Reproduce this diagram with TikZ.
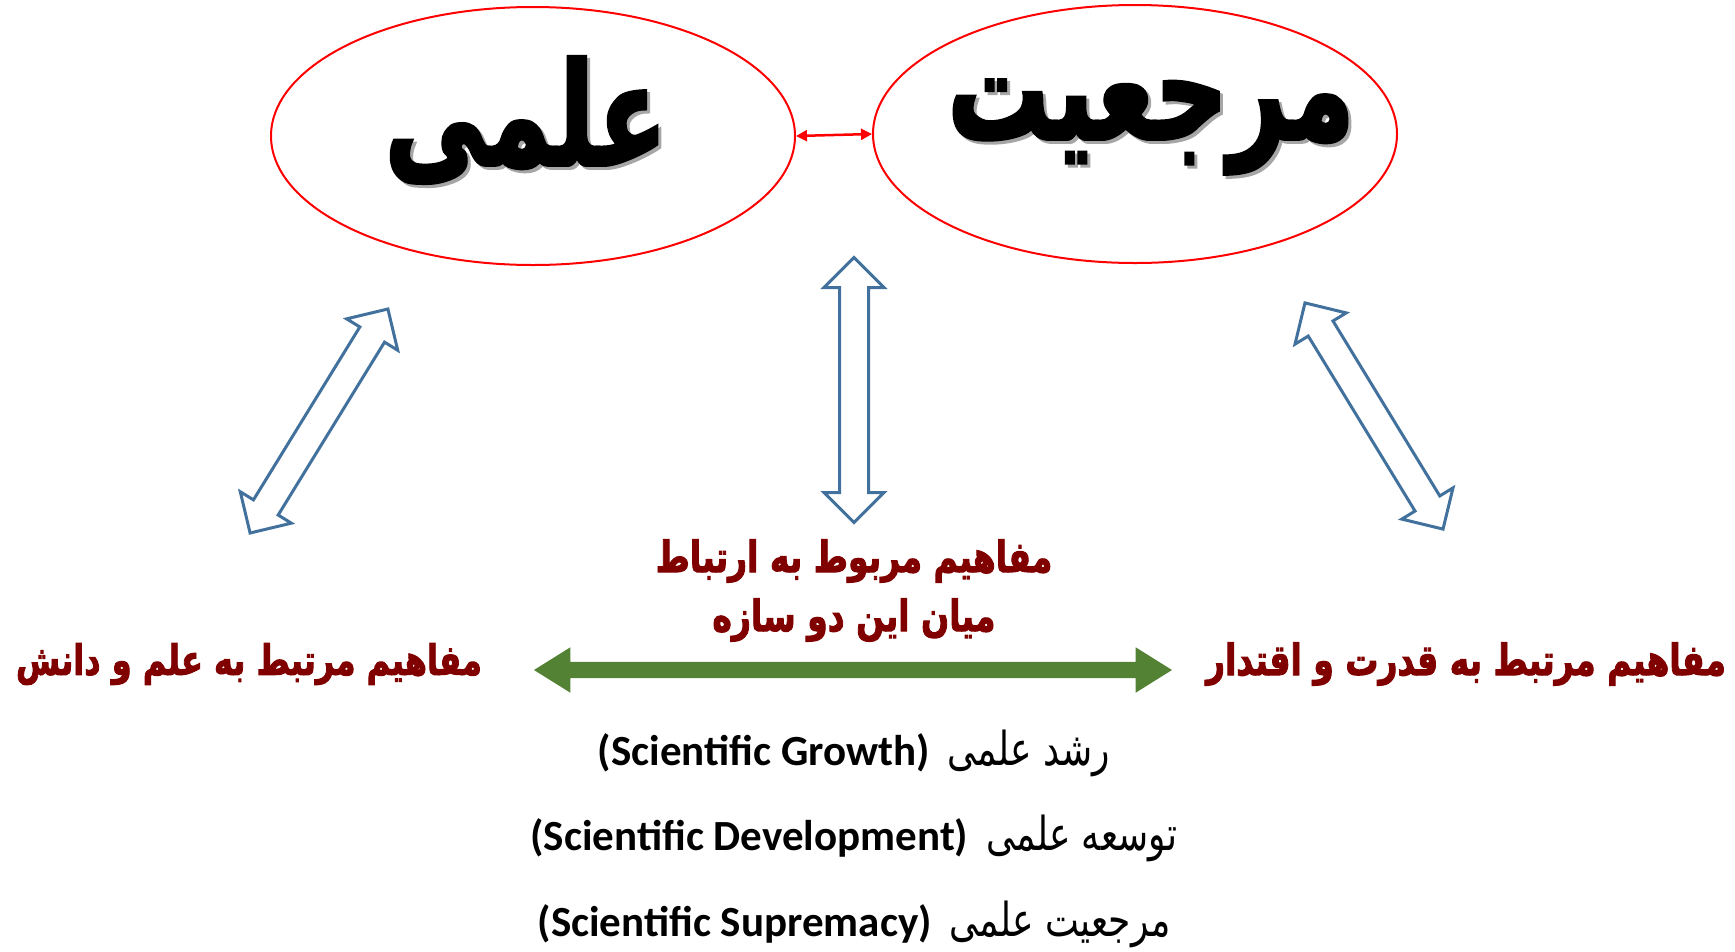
\documentclass[tikz,border=0pt]{standalone}
\usepackage{fontspec}
\usetikzlibrary{shapes.geometric,shapes.arrows,arrows.meta}
\TeXXeTstate=1
\newfontfamily\arabicfont[Script=Arabic]{DejaVu Sans}
\newfontfamily\heavyfont[Script=Arabic,BoldFont={DejaVu Sans Bold},BoldFeatures={FakeBold=2.5}]{DejaVu Sans}
\newfontfamily\latinfont{Carlito}
\definecolor{arrowblue}{HTML}{41719C}
\definecolor{arrowgreen}{HTML}{548235}
\definecolor{darkred}{RGB}{128,0,0}
\tikzset{
  oval/.style={ellipse, draw=red, line width=2pt, inner sep=0pt, minimum width=524pt, minimum height=258pt},
  titletext/.style={inner sep=0pt, font=\heavyfont\bfseries\fontsize{102}{110}\selectfont},
  hollowarrow/.style={shape=double arrow, draw=arrowblue, line width=3pt, fill=white, inner xsep=0pt, inner ysep=13pt,
     double arrow head extend=15.5pt},
  greenarrow/.style={shape=double arrow, fill=arrowgreen, inner xsep=0pt, inner ysep=8pt,
     double arrow head extend=14.5pt, double arrow tip angle=64},
  redlabel/.style={inner sep=0pt, text=darkred, font=\heavyfont\bfseries\fontsize{32}{59}\selectfont, align=center},
  listline/.style={inner sep=0pt}
}
\newcommand{\tallA}[1]{\scalebox{1}[1.4]{#1}}
\newcommand{\tallB}[1]{\scalebox{1}[1.3]{#1}}
\newcommand{\engpart}[1]{{\latinfont\bfseries\fontsize{43}{48}\selectfont #1}\hspace{18pt}}
\newcommand{\perpart}[1]{{\arabicfont\fontsize{36}{42}\selectfont\tallB{\beginR #1\endR}}}
\begin{document}
\begin{tikzpicture}[x=1pt,y=-1pt]
\useasboundingbox (0,0) rectangle (1735,951);
% ellipses
\node[oval] (elmi) at (533,136) {};
\node[oval] (marj) at (1135,134) {};
\draw[red, line width=2.5pt, {Triangle[length=11pt,width=11pt]}-{Triangle[length=11pt,width=11pt]}] (elmi.east) -- (marj.west);
% titles with shadow
\node[titletext, text=gray!70] (elmishadow) at (529,123) {\tallA{\beginR علمی\endR}};
\node[titletext] (elmitxt) at (526,120) {\tallA{\beginR علمی\endR}};
\node[titletext, text=gray!70] (marjshadow) at (1154,130) {\tallA{\beginR مرجعیت\endR}};
\node[titletext] (marjtxt) at (1151,127) {\tallA{\beginR مرجعیت\endR}};
% hollow arrows
\node[hollowarrow, minimum height=263pt, rotate=58.4] (leftarr) at (319,421) {};
\node[hollowarrow, minimum height=265pt, rotate=90] (midarr) at (854,390) {};
\node[hollowarrow, minimum height=265pt, rotate=121.4] (rightarr) at (1374,416) {};
% labels
\node[redlabel] (leftlab) at (249,664) {\tallB{\beginR مفاهیم مرتبط به علم و دانش\endR}};
\node[redlabel, font=\heavyfont\bfseries\fontsize{33}{59}\selectfont] (rightlab) at (1466,664) {\tallB{\beginR مفاهیم مرتبط به قدرت و اقتدار\endR}};
\node[redlabel, font=\heavyfont\bfseries\fontsize{33}{59}\selectfont] (midlab1) at (854,561) {\tallB{\beginR مفاهیم مربوط به ارتباط\endR}};
\node[redlabel, font=\heavyfont\bfseries\fontsize{33}{59}\selectfont] (midlab2) at (854,620) {\tallB{\beginR میان این دو سازه\endR}};
% green arrow
\node[greenarrow, minimum height=638pt] (garrow) at (853,670) {};
% list
\node[listline] (l1) at (854,753) {\engpart{(Scientific Growth)}\perpart{رشد علمی}};
\node[listline] (l2) at (854,838) {\engpart{(Scientific Development)}\perpart{توسعه علمی}};
\node[listline] (l3) at (854,924) {\engpart{(Scientific Supremacy)}\perpart{مرجعیت علمی}};
\end{tikzpicture}
\end{document}
